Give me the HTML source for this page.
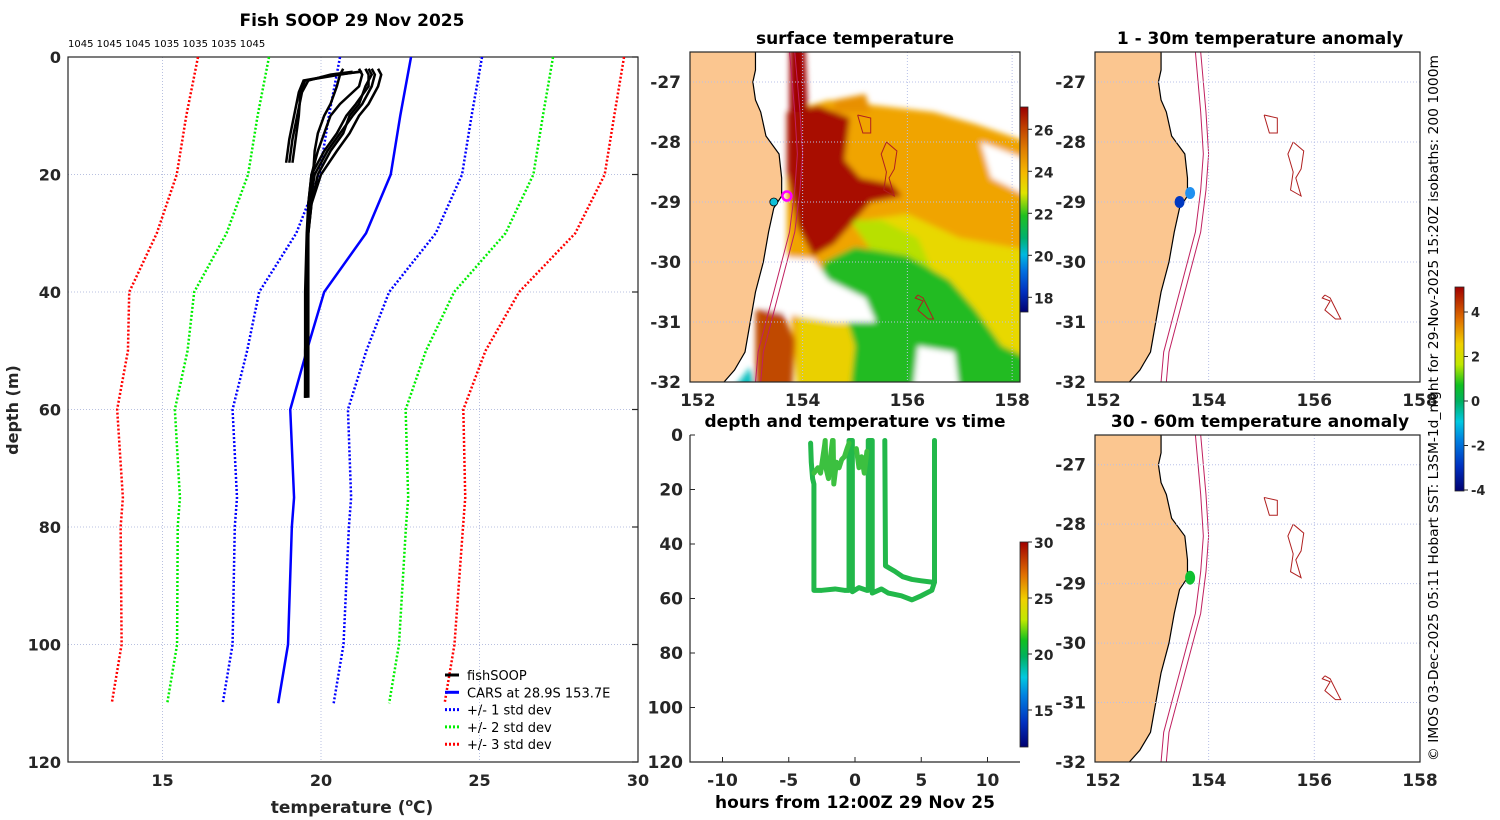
<!DOCTYPE html>
<html><head><meta charset="utf-8">
<style>
html,body{margin:0;padding:0;background:#fff;}
svg{display:block;font-family:"DejaVu Sans","Liberation Sans",sans-serif;}
.tk{font-size:16px;font-weight:bold;fill:#262626;}
.tt{font-size:17px;font-weight:bold;fill:#000;}
.pl{font-weight:normal;fill:#000;}
</style></head>
<body>
<svg id="fig" width="1500" height="820" viewBox="0 0 1500 820" xmlns="http://www.w3.org/2000/svg">
<defs>
<linearGradient id="sstGrad" x1="0" y1="1" x2="0" y2="0">
<stop offset="0" stop-color="#000070"/><stop offset="0.1" stop-color="#0030c0"/><stop offset="0.2" stop-color="#0070e0"/><stop offset="0.28" stop-color="#00b8e0"/><stop offset="0.36" stop-color="#00b070"/><stop offset="0.47" stop-color="#20c020"/><stop offset="0.58" stop-color="#e0e400"/><stop offset="0.68" stop-color="#f5b800"/><stop offset="0.79" stop-color="#e08000"/><stop offset="0.9" stop-color="#c04000"/><stop offset="1" stop-color="#9a0000"/>
</linearGradient>
<linearGradient id="jetGrad" x1="0" y1="1" x2="0" y2="0">
<stop offset="0" stop-color="#000070"/><stop offset="0.12" stop-color="#0030c0"/><stop offset="0.25" stop-color="#0080e0"/><stop offset="0.34" stop-color="#00c8e0"/><stop offset="0.44" stop-color="#00b060"/><stop offset="0.52" stop-color="#10c020"/><stop offset="0.62" stop-color="#c0e800"/><stop offset="0.72" stop-color="#f0d000"/><stop offset="0.84" stop-color="#e07000"/><stop offset="1" stop-color="#a00000"/>
</linearGradient>
<clipPath id="clipSst"><rect x="690" y="52" width="330" height="330"/></clipPath>
<clipPath id="clipA1"><rect x="1095" y="52" width="325" height="330"/></clipPath>
<clipPath id="clipA2"><rect x="1095" y="435" width="325" height="327"/></clipPath>
<filter id="soft" x="-20%" y="-20%" width="140%" height="140%"><feGaussianBlur stdDeviation="3"/></filter>
</defs>
</svg>
<script>
// ---------- DATA ----------
const carsDepth = [0,10,20,30,40,50,60,75,80,100,110];
const carsTemp = [22.84,22.5,22.2,21.42,20.1,19.55,19.03,19.15,19.08,18.96,18.65];
const carsStd = [2.24,2.25,2.25,2.2,2.05,1.88,1.82,1.8,1.8,1.75,1.75];
const fishDepthShort = [18,14,10,6,4,3,2.5];
const fishTempShort = [[18.9,19.0,19.15,19.3,19.45,20.5,21.3],[19.0,19.1,19.25,19.4,19.6,20.3,21.0],[19.1,19.2,19.3,19.35,19.5,20.6,21.2]];
const fishDepthDeep = [2,3,5,8,10,13,16,20,25,30,40,50,58];
const fishTempDeep = [
 [21.6,21.7,21.6,21.3,21.0,20.6,20.2,19.8,19.65,19.6,19.58,19.55,19.55],
 [21.4,21.5,21.5,21.1,20.8,20.5,20.1,19.7,19.6,19.58,19.55,19.5,19.5],
 [21.8,21.9,21.8,21.5,21.2,20.9,20.5,20.0,19.7,19.6,19.6,19.6,19.6],
 [20.7,20.6,20.5,20.3,20.1,19.9,19.8,19.75,19.62,19.58,19.55,19.52,19.5],
 [21.2,21.3,21.2,20.6,20.3,20.1,19.9,19.7,19.6,19.55,19.5,19.5,19.5],
 [21.5,21.6,21.4,21.2,20.9,20.7,20.3,19.9,19.7,19.6,19.57,19.55,19.52]];
const headerText = "1045 1045 1045 1035 1035 1035 1045";
const tempTicks = [15,20,25,30];
const depthTicks = [0,20,40,60,80,100,120];
const hourTicks = [-10,-5,0,5,10];
const lonTicks = [152,154,156,158];
const latTicks = [-27,-28,-29,-30,-31,-32];
const sstTicks = [18,20,22,24,26];
const jetTicks = [15,20,25,30];
const anomTicks = [-4,-2,0,2,4];
const trackHours = [
 [-3.35,-3.3,-3.2,-3.1,-3.1,-2.5,-1.5,-0.8,-0.45,-0.45,-0.3,-0.2,-0.2,0.3,0.9,1.0,1.0,1.3,1.3,2.0,2.5,3.5,4.3,5.0,5.8,6.0,6.0],
 [-3.1,-2.8,-2.6,-2.3,-2.25,-2.2,-2.0,-1.9,-1.7,-1.65,-1.6,-1.4,-1.2,-1.0,-0.8,-0.6,-0.45],
 [2.25,2.3,3.0,3.6,4.3,5.0,5.8,6.0],
 [0.1,0.3,0.5,0.7,0.9]];
const trackDepths = [
 [3,10,16,18,57,57,56.5,57,57,2,2,2,57.5,56,57,57,2,2,58,56.5,58,59,60.5,59,57,54,2],
 [14,12,14,4,2,12,16,10,2,2,18,10,12,9,8,5,3],
 [2,48,50,52,53,53.5,54,54],
 [5,12,8,14,6]];
const coastLon = [153.1,153.1,153.05,153.1,153.2,153.3,153.55,153.6,153.6,153.45,153.35,153.25,153.1,153.0,152.9,152.7,152.5];
const coastLat = [-26.5,-26.8,-27.0,-27.3,-27.5,-27.9,-28.2,-28.6,-28.9,-29.1,-29.5,-30.0,-30.5,-31.0,-31.5,-31.8,-32];
const iso200Lon = [153.75,153.8,153.85,153.9,153.85,153.75,153.6,153.45,153.3,153.15,153.1];
const iso1000Lon = [153.85,153.9,153.95,154.0,153.95,153.85,153.7,153.55,153.4,153.25,153.2];
const isoLat = [-26.5,-27.0,-27.5,-28.2,-28.8,-29.5,-30.0,-30.5,-31.0,-31.5,-32];
const mountLon = [[155.05,155.3,155.3,155.15,155.05],[155.6,155.8,155.75,155.65,155.75,155.55,155.6,155.5,155.6],[156.2,156.3,156.5,156.4,156.2,156.3,156.15,156.2]];
const mountLat = [[-27.55,-27.6,-27.85,-27.85,-27.55],[-28.0,-28.15,-28.45,-28.6,-28.9,-28.8,-28.5,-28.2,-28.0],[-30.55,-30.6,-30.95,-30.95,-30.8,-30.65,-30.6,-30.55]];
const sstRegionColors = ["#f0a400","#e8d800","#b8e000","#22bb22","#a80800","#a00000","#c04800","#ead000","#ffffff","#ffffff","#10c0c0","#e89000","#ffffff"];
const sstRegionLon = [
 [153.7,154.5,155.5,156.5,157.3,158.3,158.3,153.9,153.7],
 [155.2,156,157,158.3,158.3,157.3,157.2,156.5,155.8],
 [154.9,155.5,156.2,156.5,156.0,155.3],
 [154.4,155.0,156,156.8,157.3,157.8,158.3,158.3,155.0,154.7,154.3],
 [153.7,154.3,154.9,154.8,155.1,155.7,155.9,155.3,155.0,154.6,154.2,153.9,153.7],
 [153.75,154.05,154.1,153.75],
 [153.1,153.6,153.85,153.8,153.1],
 [153.9,154.8,155.0,154.9,153.9],
 [153.3,154.2,154.5,155.2,155.4,154.6,153.9,153.3],
 [156.2,156.9,157.0,156.1],
 [152.6,153.0,153.1],
 [154.6,155.2,155.3,154.6],
 [157.4,158.3,158.3,157.6]];
const sstRegionLat = [
 [-27.5,-27.3,-27.4,-27.5,-27.7,-28.0,-32.2,-32.2,-30.0],
 [-29.3,-29.2,-29.6,-29.8,-32.2,-32.2,-31.3,-30.8,-30.0],
 [-29.3,-29.3,-29.6,-30.2,-30.3,-29.8],
 [-30.0,-29.75,-29.9,-30.3,-30.8,-31.4,-31.6,-32.2,-32.2,-31.5,-30.8],
 [-27.5,-27.4,-27.6,-28.3,-28.6,-28.7,-28.9,-29.0,-29.3,-29.7,-29.9,-29.4,-28.5],
 [-26.4,-26.4,-27.5,-27.5],
 [-30.8,-30.8,-31.3,-32.2,-32.2],
 [-30.9,-30.8,-31.4,-32.2,-32.2],
 [-29.9,-29.95,-30.3,-30.6,-31.0,-31.0,-30.9,-30.8],
 [-31.4,-31.5,-32.2,-32.2],
 [-32.2,-31.75,-32.2],
 [-27.3,-27.2,-27.5,-27.5],
 [-28.0,-28.3,-28.9,-28.6]];
const anomTopLon = [153.45,153.65];
const anomTopLat = [-29.0,-28.85];
const anomTopVal = [-3.6,-2.4];
const anomBotLon = [153.65];
const anomBotLat = [-28.9];
const anomBotVal = [0.2];

// ---------- HELPERS ----------
const NS = "http://www.w3.org/2000/svg";
const svg = document.getElementById('fig');
function mk(tag, attrs, parent) {
  const e = document.createElementNS(NS, tag);
  for (const k in attrs) e.setAttribute(k, attrs[k]);
  (parent || svg).appendChild(e);
  return e;
}
function txt(x, y, s, cls, anchor, parent) {
  const t = mk('text', {x: x, y: y, 'class': cls, 'text-anchor': anchor || 'middle'}, parent);
  t.textContent = s;
  return t;
}
function group(name) {
  const g = mk('g', {});
  
  
  return g;
}

// ---------- LEFT PROFILE ----------
const X = t => 67.4 + (t - 12) * 31.7;
const Y = d => 57 + d * 5.875;
const gP = group('profile-chart');
let e;
e = txt(352, 26, 'Fish SOOP 29 Nov 2025', 'tt', 'middle', gP);


e = txt(68, 47, headerText, 'pl', 'start', gP);
e.setAttribute('style', 'font-size:10px');


tempTicks.forEach(t => {
  if (t < 30) {
    const l = mk('line', {x1: X(t), x2: X(t), y1: 57, y2: 762, stroke: '#b8c0e0', 'stroke-width': 1, 'stroke-dasharray': '1,2'}, gP);
    
    
  }
  const lb = txt(X(t), 786, String(t), 'tk', 'middle', gP);
  
  
});
depthTicks.forEach(d => {
  if (d > 0 && d < 120) {
    const l = mk('line', {x1: 68, x2: 638, y1: Y(d), y2: Y(d), stroke: '#b8c0e0', 'stroke-width': 1, 'stroke-dasharray': '1,2'}, gP);
    
    
  }
  mk('line', {x1: 632, x2: 638, y1: Y(d), y2: Y(d), stroke: '#262626', 'stroke-width': 1.2}, gP);
  const lb = txt(61, Y(d) + 6, String(d), 'tk', 'end', gP);
  
  
});
e = mk('rect', {x: 68, y: 57, width: 570, height: 705, fill: 'none', stroke: '#262626', 'stroke-width': 1.2}, gP);


const stdColors = ['#0000ff', '#00ee00', '#ff0000'];
[1, 2, 3].forEach((k, i) => {
  [-1, 1].forEach(s => {
    const pts = carsDepth.map((d, j) => X(carsTemp[j] + s * k * carsStd[j]) + ',' + Y(d)).join(' ');
    const pl = mk('polyline', {points: pts, fill: 'none', stroke: stdColors[i], 'stroke-width': 2.5, 'stroke-dasharray': '2,2'}, gP);
    
    
  });
});
e = mk('polyline', {points: carsDepth.map((d, j) => X(carsTemp[j]) + ',' + Y(d)).join(' '), fill: 'none', stroke: '#0000ff', 'stroke-width': 2.5}, gP);


fishTempShort.forEach(arr => {
  const pl = mk('polyline', {points: fishDepthShort.map((d, j) => X(arr[j]) + ',' + Y(d)).join(' '), fill: 'none', stroke: '#000', 'stroke-width': 2.5}, gP);
  
  
});
fishTempDeep.forEach(arr => {
  const pl = mk('polyline', {points: fishDepthDeep.map((d, j) => X(arr[j]) + ',' + Y(d)).join(' '), fill: 'none', stroke: '#000', 'stroke-width': 2.5}, gP);
  
  
});
const legItems = [['fishSOOP', '#000', ''], ['CARS at 28.9S 153.7E', '#0000ff', ''], ['+/- 1 std dev', '#0000ff', '2,2'], ['+/- 2 std dev', '#00ee00', '2,2'], ['+/- 3 std dev', '#ff0000', '2,2']];
legItems.forEach((it, i) => {
  const yy = 675 + i * 17.3;
  const l = mk('line', {x1: 445, x2: 459, y1: yy, y2: yy, stroke: it[1], 'stroke-width': 3, 'stroke-dasharray': it[2] || 'none'}, gP);
  
  
  const t = txt(467, yy + 5, it[0], 'pl', 'start', gP);
  t.setAttribute('style', 'font-size:13px');
  
  
});
e = mk('text', {x: 0, y: 0, 'class': 'tk', 'text-anchor': 'middle', transform: 'translate(18,410) rotate(-90)'}, gP);
e.textContent = 'depth (m)';


e = mk('text', {x: 352, y: 813, 'class': 'tk', 'text-anchor': 'middle', style: 'font-size:17px'}, gP);
e.innerHTML = 'temperature (<tspan dy="-7" font-size="11">o</tspan><tspan dy="7">C)</tspan>';



// ---------- MAP HELPERS ----------
function mapAxes(name, x0, y0, w, h, latTop, latBot, lonL, lonR, clipId) {
  const g = group(name);
  const LX = lon => x0 + (lon - lonL) / (lonR - lonL) * w;
  const LY = lat => y0 + (latTop - lat) / (latTop - latBot) * h;
  return {g, LX, LY, x0, y0, w, h, clipId};
}
function drawCoastAndGrid(m) {
  const inner = mk('g', {'clip-path': 'url(#' + m.clipId + ')'}, m.g);
  const landPts = coastLon.map((lo, i) => m.LX(lo) + ',' + m.LY(coastLat[i])).join(' ') + ' ' + (m.x0 - 5) + ',' + (m.y0 + m.h + 5) + ' ' + (m.x0 - 5) + ',' + (m.y0 - 5);
  let el = mk('polygon', {points: landPts, fill: '#fbc690', stroke: '#000', 'stroke-width': 1.2}, inner);
  
  
  [iso200Lon, iso1000Lon].forEach(arr => {
    const pl = mk('polyline', {points: arr.map((lo, i) => m.LX(lo) + ',' + m.LY(isoLat[i])).join(' '), fill: 'none', stroke: '#c02060', 'stroke-width': 1}, inner);
    
    
  });
  mountLon.forEach((arr, k) => {
    const pl = mk('polyline', {points: arr.map((lo, i) => m.LX(lo) + ',' + m.LY(mountLat[k][i])).join(' '), fill: 'none', stroke: '#b02020', 'stroke-width': 1}, inner);
    
    
  });
  lonTicks.forEach(lo => {
    if (lo > 152) {
      const l = mk('line', {x1: m.LX(lo), x2: m.LX(lo), y1: m.y0, y2: m.y0 + m.h, stroke: '#b8c0e8', 'stroke-width': 1, 'stroke-dasharray': '1,2'}, m.g);
      
      
    }
    const lb = txt(m.LX(lo), m.y0 + m.h + 24, String(lo), 'tk', 'middle', m.g);
    lb.setAttribute('style', 'font-size:17px');
    
    
  });
  latTicks.forEach(la => {
    if (la > -32) {
      const l = mk('line', {x1: m.x0, x2: m.x0 + m.w, y1: m.LY(la), y2: m.LY(la), stroke: '#b8c0e8', 'stroke-width': 1, 'stroke-dasharray': '1,2'}, m.g);
      
      
    }
    const lb = txt(m.x0 - 9, m.LY(la) + 6, String(la), 'tk', 'end', m.g);
    lb.setAttribute('style', 'font-size:17px');
    
    
  });
  el = mk('rect', {x: m.x0, y: m.y0, width: m.w, height: m.h, fill: 'none', stroke: '#262626', 'stroke-width': 1.2}, m.g);
  
  
  return inner;
}

// ---------- SST MAP ----------
const mS = mapAxes('sst-map', 690, 52, 330, 330, -26.5, -32, 151.85, 158.15, 'clipSst');
e = txt(855, 44, 'surface temperature', 'tt', 'middle', mS.g);


const sstField = mk('g', {'clip-path': 'url(#clipSst)'}, mS.g);
const sstBlur = mk('g', {filter: 'url(#soft)'}, sstField);
sstRegionLon.forEach((arr, k) => {
  const p = mk('polygon', {points: arr.map((lo, i) => mS.LX(lo) + ',' + mS.LY(sstRegionLat[k][i])).join(' '), fill: sstRegionColors[k]}, sstBlur);
  
  
});
drawCoastAndGrid(mS);
e = mk('circle', {cx: mS.LX(153.45), cy: mS.LY(-29.0), r: 4, fill: '#10c0d8', stroke: '#000', 'stroke-width': 0.8}, mS.g);


e = mk('circle', {cx: mS.LX(153.7), cy: mS.LY(-28.9), r: 4.5, fill: 'none', stroke: '#ff00ff', 'stroke-width': 2.5}, mS.g);


e = mk('rect', {x: 1020, y: 107, width: 8, height: 205, fill: 'url(#sstGrad)', stroke: '#262626', 'stroke-width': 0.8}, mS.g);


sstTicks.forEach(t => {
  const yy = 312 - (t - 17.3) * 21;
  mk('line', {x1: 1028, x2: 1032, y1: yy, y2: yy, stroke: '#262626'}, mS.g);
  const lb = txt(1034, yy + 6, String(t), 'tk', 'start', mS.g);
  lb.setAttribute('style', 'font-size:14px');
  
  
});

// ---------- DEPTH VS TIME ----------
const HX = h => 855 + h * 13.25;
const HY = d => 435 + d * 2.725;
const gT = group('depth-time-chart');
e = txt(855, 427, 'depth and temperature vs time', 'tt', 'middle', gT);


e = mk('polyline', {points: '690,435 690,762 1020,762', fill: 'none', stroke: '#262626', 'stroke-width': 1.2}, gT);


depthTicks.forEach(d => {
  mk('line', {x1: 690, x2: 695, y1: HY(d), y2: HY(d), stroke: '#262626'}, gT);
  const lb = txt(683, HY(d) + 6, String(d), 'tk', 'end', gT);
  lb.setAttribute('style', 'font-size:17px');
  
  
});
hourTicks.forEach(h => {
  mk('line', {x1: HX(h), x2: HX(h), y1: 757, y2: 762, stroke: '#262626'}, gT);
  const lb = txt(HX(h), 786, String(h), 'tk', 'middle', gT);
  lb.setAttribute('style', 'font-size:17px');
  
  
});
e = txt(855, 808, 'hours from 12:00Z 29 Nov 25', 'tt', 'middle', gT);


trackHours.forEach((hs, k) => {
  const pl = mk('polyline', {points: hs.map((h, i) => HX(h) + ',' + HY(trackDepths[k][i])).join(' '), fill: 'none', stroke: k === 1 || k === 3 ? '#3cc040' : '#22b84a', 'stroke-width': 5, 'stroke-linejoin': 'round', 'stroke-linecap': 'round'}, gT);
  
  
});
e = mk('rect', {x: 1020, y: 542, width: 8, height: 205, fill: 'url(#jetGrad)', stroke: '#262626', 'stroke-width': 0.8}, gT);


jetTicks.forEach(t => {
  const yy = 542 + (30 - t) * 11.2;
  mk('line', {x1: 1028, x2: 1032, y1: yy, y2: yy, stroke: '#262626'}, gT);
  const lb = txt(1034, yy + 6, String(t), 'tk', 'start', gT);
  lb.setAttribute('style', 'font-size:14px');
  
  
});

// ---------- ANOMALY MAPS ----------
function anomColor(v) {
  if (v < -3) return '#0038c0';
  if (v < -1.5) return '#2090f0';
  if (v < 1) return '#10c030';
  if (v < 3) return '#f0d000';
  return '#c03000';
}
const mA1 = mapAxes('anomaly-map-1-30m', 1095, 52, 325, 330, -26.5, -32, 151.85, 158.0, 'clipA1');
e = txt(1260, 44, '1 - 30m temperature anomaly', 'tt', 'middle', mA1.g);


drawCoastAndGrid(mA1);
anomTopLon.forEach((lo, i) => {
  const c = mk('ellipse', {cx: mA1.LX(lo), cy: mA1.LY(anomTopLat[i]), rx: 5, ry: 6, fill: anomColor(anomTopVal[i])}, mA1.g);
  
  
});
const mA2 = mapAxes('anomaly-map-30-60m', 1095, 435, 325, 327, -26.5, -32, 151.85, 158.0, 'clipA2');
e = txt(1260, 427, '30 - 60m temperature anomaly', 'tt', 'middle', mA2.g);


drawCoastAndGrid(mA2);
anomBotLon.forEach((lo, i) => {
  const c = mk('ellipse', {cx: mA2.LX(lo), cy: mA2.LY(anomBotLat[i]), rx: 5, ry: 7, fill: anomColor(anomBotVal[i])}, mA2.g);
  
  
});
const gC = group('anomaly-colorbar-group');
e = mk('rect', {x: 1455, y: 287, width: 9, height: 204, fill: 'url(#jetGrad)', stroke: '#262626', 'stroke-width': 0.8}, gC);


anomTicks.forEach(t => {
  const yy = 490 - (t + 4) * 22.25;
  mk('line', {x1: 1464, x2: 1468, y1: yy, y2: yy, stroke: '#262626'}, gC);
  const lb = txt(1471, yy + 5, String(t), 'tk', 'start', gC);
  lb.setAttribute('style', 'font-size:13px');
  
  
});
e = mk('text', {x: 0, y: 0, transform: 'translate(1438,761) rotate(-90)', 'text-anchor': 'start', textLength: 706, lengthAdjust: 'spacingAndGlyphs', style: 'font-size:13px;fill:#000'});
e.textContent = '\u00a9 IMOS 03-Dec-2025 05:11 Hobart SST: L3SM-1d_night for 29-Nov-2025 15:20Z isobaths: 200  1000m';


</script>
</body></html>
